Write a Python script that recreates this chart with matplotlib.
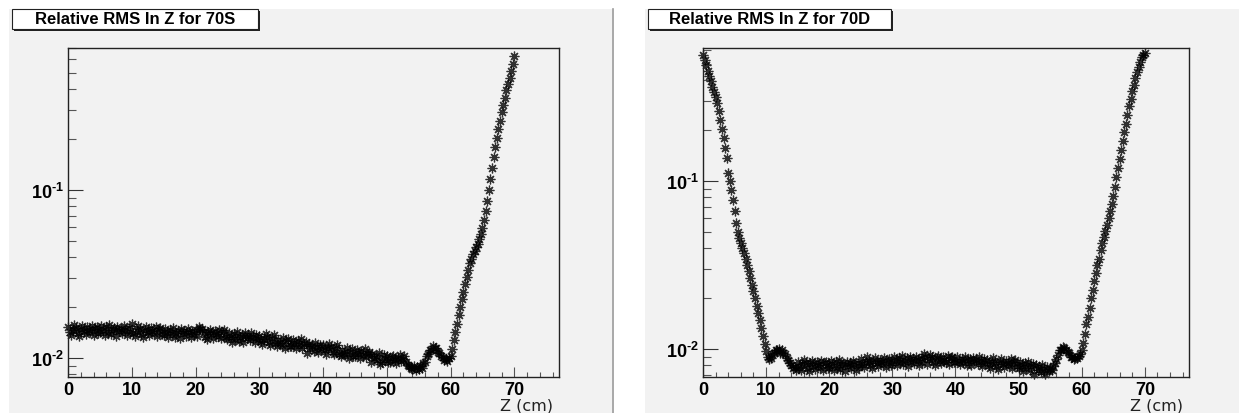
import numpy as np
import matplotlib
matplotlib.use("Agg")
import matplotlib.pyplot as plt
from matplotlib.patches import Rectangle
from matplotlib.ticker import LogLocator, MultipleLocator, NullFormatter, FixedFormatter, FixedLocator


# Z positions (cm), one point every 0.25 cm
z_cm = np.arange(0, 281) * 0.25

# Relative RMS for 70S, in units of 1e-3 (one row = 5 cm)
rms_70s = [
    15.3, 14.3, 13.7, 14.7, 15.6, 15.0, 14.0, 13.6, 14.9, 15.5, 14.5, 13.9, 15.2, 14.6, 14.2, 15.5, 13.7, 14.9, 15.3, 14.0,
    14.2, 15.5, 14.7, 13.7, 15.2, 14.3, 15.6, 13.9, 14.6, 15.0, 13.6, 15.3, 14.5, 14.9, 14.0, 15.5, 14.7, 13.7, 15.0, 14.3,
    16.0, 14.1, 13.5, 14.5, 15.4, 14.8, 13.8, 13.4, 14.7, 15.3, 14.3, 13.7, 15.0, 14.4, 14.0, 15.3, 13.5, 14.7, 15.1, 13.8,
    13.7, 14.9, 14.2, 13.3, 14.7, 13.8, 15.1, 13.4, 14.1, 14.5, 13.1, 14.8, 14.0, 14.4, 13.5, 14.9, 14.2, 13.3, 14.5, 13.8,
    14.6, 13.6, 15.2, 14.8, 14.9, 14.3, 13.3, 12.9, 14.2, 14.7, 13.8, 13.2, 14.5, 13.9, 13.5, 14.7, 13.1, 14.2, 14.6, 13.3,
    12.9, 14.1, 13.4, 12.5, 13.8, 13.0, 14.2, 12.6, 13.3, 13.7, 12.4, 14.0, 13.2, 13.6, 12.8, 14.1, 13.4, 12.5, 13.7, 13.0,
    13.5, 12.6, 12.1, 13.0, 13.8, 13.3, 12.4, 12.0, 13.2, 13.7, 12.2, 11.7, 12.8, 12.3, 11.9, 13.1, 11.5, 12.6, 12.9, 11.8,
    11.7, 12.8, 12.2, 11.4, 12.6, 11.9, 12.9, 11.5, 12.1, 12.5, 10.7, 12.1, 11.4, 11.7, 11.0, 12.2, 11.6, 10.8, 11.9, 11.3,
    11.9, 11.1, 10.6, 11.4, 12.1, 11.6, 10.9, 10.5, 11.5, 12.0, 10.6, 10.2, 11.1, 10.7, 10.4, 11.4, 10.0, 10.9, 11.3, 10.3,
    10.3, 11.2, 10.7, 10.0, 11.0, 10.4, 11.3, 10.1, 10.6, 10.9, 9.4, 10.6, 10.0, 10.3, 9.7, 10.7, 9.2, 9.5, 10.4, 9.9,
    10.2, 9.5, 9.4, 10.1, 10.3, 9.7, 9.3, 10.0, 10.4, 9.6, 9.9, 10.2, 9.4, 9.1, 8.9, 8.7, 8.6, 8.9, 8.5, 8.8,
    8.6, 8.9, 8.7, 9.3, 9.5, 10.2, 10.5, 11.1, 11.2, 11.7, 11.4, 11.5, 10.9, 10.7, 10.2, 10.1, 9.7, 9.9, 9.6, 10.0,
    10.3, 11.3, 12.7, 14.3, 16.0, 18.0, 20.0, 22.3, 24.8, 27.5, 30.5, 33.5, 36.5, 39.0, 41.5, 43.5, 45.5, 48.0, 51.0, 55.0,
    59.5, 66.0, 75.0, 86.0, 100.0, 117.0, 136.0, 157.0, 180.0, 205.0, 230.0, 258.0, 290.0, 322.0, 355.0, 392.0, 425.0, 465.0, 510.0, 560.0,
    630.0,
]

# Relative RMS for 70D, in units of 1e-3 (one row = 5 cm)
rms_70d = [
    560.0, 525.0, 490.0, 455.0, 420.0, 393.0, 365.0, 340.0, 315.0, 290.0, 262.0, 232.0, 205.0, 180.0, 158.0, 138.0, 112.0, 100.0, 88.0, 77.0,
    66.0, 56.0, 50.0, 46.0, 42.5, 40.0, 37.5, 34.5, 31.5, 29.0, 26.5, 24.0, 22.0, 20.0, 18.0, 16.3, 14.8, 13.3, 12.0, 10.7,
    9.7, 8.9, 8.7, 8.8, 9.3, 9.4, 9.9, 9.8, 10.0, 9.5, 9.8, 9.4, 9.3, 8.8, 8.6, 8.2, 8.0, 7.7, 7.8, 7.5,
    8.4, 7.8, 7.5, 8.1, 8.6, 8.2, 7.7, 7.4, 8.2, 8.5, 7.9, 7.6, 8.3, 8.0, 7.8, 8.5, 7.5, 8.2, 8.4, 7.7,
    7.8, 8.5, 8.1, 7.5, 8.3, 7.8, 8.6, 7.6, 8.0, 8.2, 7.4, 8.4, 7.9, 8.2, 7.7, 8.5, 8.1, 7.5, 8.2, 7.8,
    8.7, 8.1, 7.8, 8.4, 8.9, 8.5, 8.0, 7.7, 8.5, 8.8, 8.2, 7.9, 8.6, 8.3, 8.1, 8.8, 7.8, 8.5, 8.7, 8.0,
    8.2, 9.0, 8.6, 8.0, 8.8, 8.3, 9.1, 8.1, 8.5, 8.8, 7.9, 8.9, 8.4, 8.7, 8.2, 9.0, 8.6, 8.0, 8.8, 8.3,
    9.3, 8.9, 8.1, 8.7, 9.2, 8.9, 8.3, 8.0, 8.8, 9.1, 8.5, 8.2, 8.9, 8.6, 8.3, 9.1, 8.1, 8.8, 9.0, 8.3,
    8.3, 8.9, 8.5, 8.1, 8.7, 8.4, 9.0, 8.0, 8.6, 8.7, 8.0, 8.8, 8.5, 8.6, 8.1, 8.9, 8.5, 7.9, 8.7, 8.2,
    8.6, 8.0, 7.7, 8.3, 8.8, 8.4, 7.9, 7.6, 8.4, 8.7, 8.1, 7.8, 8.5, 8.2, 8.0, 8.7, 7.7, 8.4, 8.6, 7.9,
    7.7, 8.4, 8.0, 7.4, 8.2, 7.7, 8.4, 7.5, 7.9, 8.1, 7.1, 8.0, 7.5, 7.8, 7.3, 8.0, 7.6, 7.1, 7.8, 7.4,
    7.6, 7.5, 7.9, 8.2, 8.7, 9.2, 9.8, 9.9, 10.3, 10.1, 9.9, 9.6, 9.4, 9.0, 8.9, 8.7, 8.8, 8.8, 9.1, 9.3,
    9.9, 10.9, 12.3, 14.0, 15.5, 17.5, 20.0, 22.5, 25.5, 28.5, 31.5, 34.5, 39.0, 42.5, 46.5, 50.5, 55.0, 60.0, 66.0, 73.0,
    81.0, 92.0, 105.0, 119.0, 135.0, 152.0, 172.0, 195.0, 220.0, 248.0, 278.0, 310.0, 345.0, 375.0, 410.0, 445.0, 480.0, 515.0, 545.0, 565.0,
    575.0,
]

titles = ["Relative RMS In Z for 70S", "Relative RMS In Z for 70D"]
ylims = [(0.0077, 0.70), (0.0068, 0.62)]

W, H = 1239, 414
PANE = "#f2f2f2"

plt.rcParams["font.family"] = ["Liberation Sans", "DejaVu Sans"]
plt.rcParams["mathtext.fontset"] = "custom"
plt.rcParams["mathtext.rm"] = "Liberation Sans:bold"
plt.rcParams["mathtext.bf"] = "Liberation Sans:bold"
plt.rcParams["mathtext.default"] = "bf"


def fx(px):
    return px / W


def fy(py):
    return 1 - py / H


# Draw one ROOT-like pad: gray pane, title box, log-scale graph with asterisks
def draw_pad(fig, pane_x, ax_box, title_box, values, title, ylim):
    x0, x1 = pane_x
    fig.patches.append(Rectangle((fx(x0), 0), fx(x1 - x0), 1 - 10 / H,
                                 transform=fig.transFigure, facecolor=PANE,
                                 edgecolor="none", zorder=-5))

    l, r, t, b = ax_box
    ax = fig.add_axes([fx(l), fy(b), fx(r - l), (b - t) / H])
    ax.set_zorder(1)
    ax.set_facecolor(PANE)
    y = np.array(values) * 1e-3
    ax.plot(z_cm, y, linestyle="none", marker=(8, 2, 0), markersize=7,
            markeredgewidth=0.9, color="black", alpha=0.8, clip_on=False)
    ax.set_yscale("log")
    ax.set_xlim(0, 77)
    ax.set_ylim(*ylim)

    # axis ticks inside, like ROOT
    ax.xaxis.set_major_locator(MultipleLocator(10))
    ax.xaxis.set_minor_locator(MultipleLocator(2))
    ax.yaxis.set_major_locator(FixedLocator([0.01, 0.1]))
    ax.yaxis.set_major_formatter(FixedFormatter([r"$10^{\text{-}2}$", r"$10^{\text{-}1}$"]))
    ax.yaxis.set_minor_locator(LogLocator(base=10, subs=np.arange(2, 10)))
    ax.yaxis.set_minor_formatter(NullFormatter())
    ax.tick_params(axis="x", which="major", direction="in", length=7, width=0.8,
                   color="#555555", labelsize=13, pad=3, top=False)
    ax.tick_params(axis="x", which="minor", direction="in", length=3.5, width=0.8,
                   color="#555555", top=False)
    ax.tick_params(axis="y", which="major", direction="in", length=11, width=0.8,
                   color="#333333", labelsize=13, pad=3, right=False)
    ax.tick_params(axis="y", which="minor", direction="in", length=5.5, width=0.8,
                   color="#555555", right=False)
    for lab in ax.get_xticklabels():
        lab.set_fontweight("bold")
    for sp in ax.spines.values():
        sp.set_linewidth(1.0)
        sp.set_color("#222222")

    fig.text(fx(r - 6), fy(406), "Z (cm)", ha="right", va="center",
             fontsize=11.5, family="DejaVu Sans", color="#222222")

    # title box with a small shadow
    bl, br, bt, bb = title_box
    fig.patches.append(Rectangle((fx(bl + 2), fy(bb + 2)), fx(br - bl), (bb - bt) / H,
                                 transform=fig.transFigure, facecolor="#222222",
                                 edgecolor="none", zorder=2))
    fig.patches.append(Rectangle((fx(bl), fy(bb)), fx(br - bl), (bb - bt) / H,
                                 transform=fig.transFigure, facecolor="white",
                                 edgecolor="#222222", linewidth=0.8, zorder=3))
    fig.text(fx((bl + br) / 2), fy((bt + bb) / 2), title, ha="center", va="center",
             fontsize=12, fontweight="bold", zorder=4)
    return ax


fig = plt.figure(figsize=(W / 100, H / 100), dpi=100)
fig.patch.set_facecolor("white")

draw_pad(fig, (9, 612), (68, 559, 49, 378), (12, 258, 10, 30), rms_70s, titles[0], ylims[0])
draw_pad(fig, (645, 1239), (703, 1189, 49, 378), (648, 891, 10, 30), rms_70d, titles[1], ylims[1])

# divider between the two pads
fig.lines.append(plt.Line2D([fx(613), fx(613)], [0, fy(10)], transform=fig.transFigure,
                            color="#9a9a9a", linewidth=1.2))

fig.savefig("out.png", dpi=100)
